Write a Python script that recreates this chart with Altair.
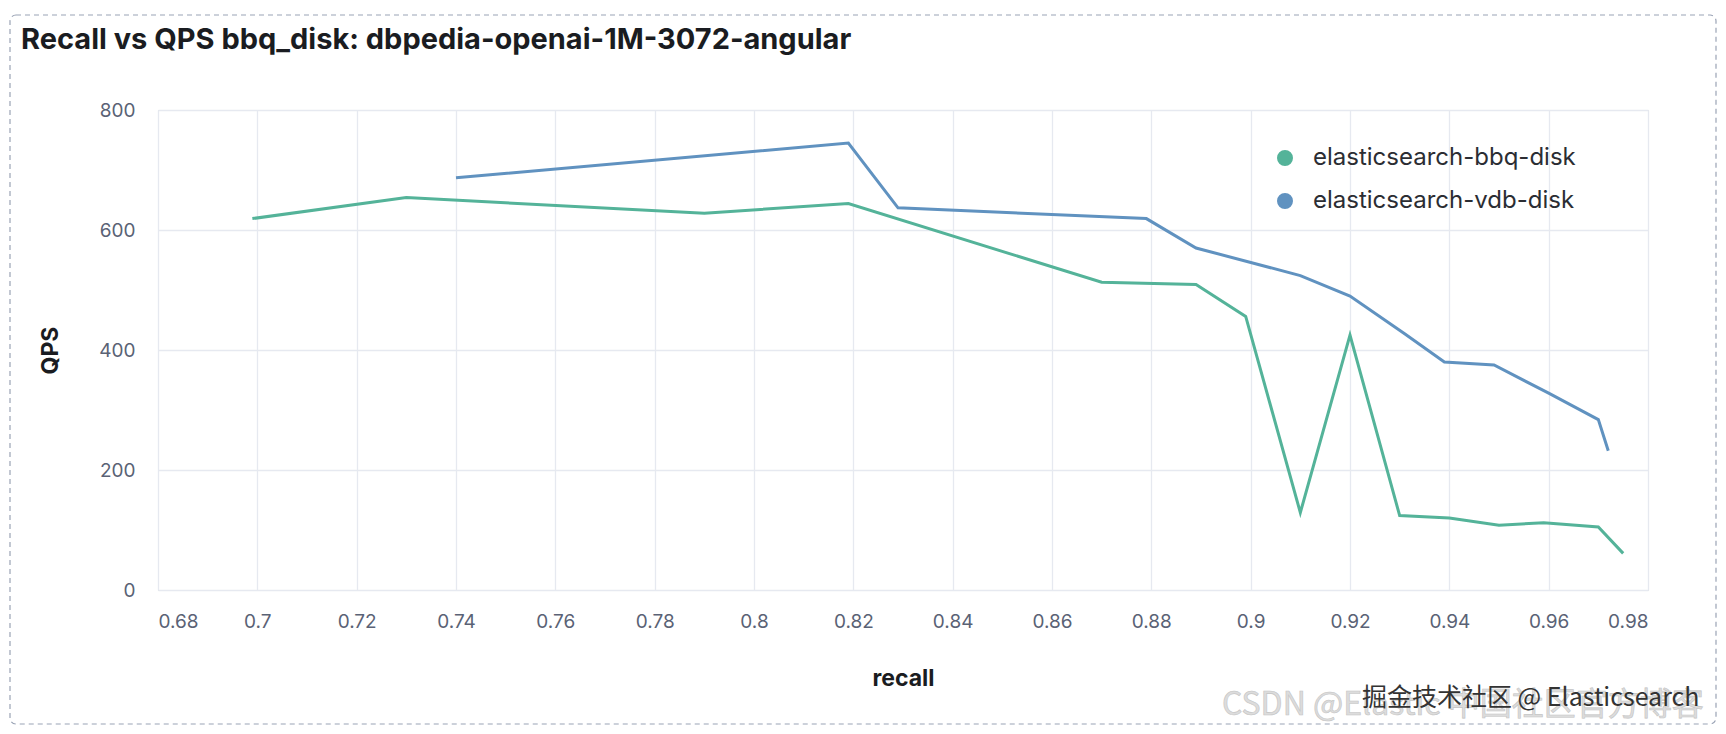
import altair as alt
import pandas as pd

# ---- data ----
bbq_recall = [0.699, 0.730, 0.790, 0.819, 0.870, 0.889, 0.899, 0.910, 0.920, 0.930, 0.940, 0.950, 0.959, 0.970, 0.975]
bbq_qps = [619, 654, 628, 644, 513, 509, 456, 129, 425, 124, 120, 108, 112, 105, 61]

vdb_recall = [0.740, 0.819, 0.829, 0.879, 0.889, 0.910, 0.920, 0.931, 0.939, 0.949, 0.960, 0.970, 0.972]
vdb_qps = [687, 745, 637, 619, 570, 524, 490, 427, 380, 375, 328, 284, 232]

series_names = ["elasticsearch-bbq-disk", "elasticsearch-vdb-disk"]
series_colors = ["#54b399", "#6092c0"]

x_ticks = [0.68, 0.70, 0.72, 0.74, 0.76, 0.78, 0.80, 0.82, 0.84, 0.86, 0.88, 0.90, 0.92, 0.94, 0.96, 0.98]
y_ticks = [0, 200, 400, 600, 800]

title_text = "Recall vs QPS bbq_disk: dbpedia-openai-1M-3072-angular"
watermark_1 = "CSDN @Elastic 中国社区官方博客"
watermark_2 = "掘金技术社区 @ Elasticsearch"

df = pd.concat([
    pd.DataFrame({"recall": bbq_recall, "QPS": bbq_qps, "series": series_names[0]}),
    pd.DataFrame({"recall": vdb_recall, "QPS": vdb_qps, "series": series_names[1]}),
], ignore_index=True)

W, H = 1490, 480
FONT = "Inter"

border = alt.Chart(pd.DataFrame({"k": [0]})).mark_rect(
    fill="transparent", stroke="#9aa3b5", strokeWidth=1.2, strokeDash=[5, 4], cornerRadius=6
).encode(
    x=alt.value(-148), x2=alt.value(W + 68), y=alt.value(-95), y2=alt.value(H + 134)
)

lines = alt.Chart(df).mark_line(strokeWidth=3, interpolate="linear").encode(
    x=alt.X("recall:Q",
            scale=alt.Scale(domain=[0.68, 0.98], nice=False, zero=False),
            axis=alt.Axis(values=x_ticks, format="~g", title="recall",
                          grid=True, gridColor="#e6e9f0", gridWidth=1.3,
                          domain=False, ticks=False, tickSize=0,
                          labelFont=FONT, labelFontSize=19, labelColor="#5a6275",
                          labelPadding=22, labelBaseline="top",
                          titleFont=FONT, titleFontSize=23, titleFontWeight="bold",
                          titleColor="#1a1c21", titleY=88, titleBaseline="middle")),
    y=alt.Y("QPS:Q",
            scale=alt.Scale(domain=[0, 800], nice=False),
            axis=alt.Axis(values=y_ticks, title="QPS",
                          grid=True, gridColor="#e6e9f0", gridWidth=1.3,
                          domain=False, ticks=False, tickSize=0,
                          labelFont=FONT, labelFontSize=19, labelColor="#5a6275",
                          labelPadding=23,
                          titleFont=FONT, titleFontSize=23, titleFontWeight="bold",
                          titleColor="#1a1c21", titleX=-108, titleY=H / 2,
                          titleAngle=270, titleBaseline="middle", titleAlign="center")),
    color=alt.Color("series:N",
                    scale=alt.Scale(domain=series_names, range=series_colors),
                    legend=alt.Legend(orient="none", legendX=1115, legendY=36, title=None,
                                      symbolType="circle", symbolSize=64, symbolStrokeWidth=8,
                                      labelFont=FONT, labelFontSize=24, labelColor="#2b2d33",
                                      labelOffset=16, rowPadding=3, labelLimit=0)),
)

wm1 = alt.Chart(pd.DataFrame({"t": [watermark_1]})).mark_text(
    align="left", baseline="middle", font="Noto Sans CJK SC", fontSize=32,
    color="#dcdcdc", stroke="#c4c4c4", strokeWidth=0.6
).encode(text="t:N", x=alt.value(1064), y=alt.value(595))

wm2 = alt.Chart(pd.DataFrame({"t": [watermark_2]})).mark_text(
    align="left", baseline="middle", font="Noto Sans CJK SC", fontSize=25,
    color="#333333"
).encode(text="t:N", x=alt.value(1204), y=alt.value(588))

chart = alt.layer(border, lines, wm1, wm2).properties(
    width=W, height=H,
    title=alt.TitleParams(title_text, anchor="start", frame="group", dx=-137, offset=-41,
                          font=FONT, fontSize=29, fontWeight="bold", color="#1a1c21"),
    autosize=alt.AutoSizeParams(type="none"),
    padding={"left": 150, "top": 102, "right": 70, "bottom": 136},
).configure_view(strokeWidth=0).configure(background="white")

chart.save("out.html", embed_options={"renderer": "svg", "actions": False})
